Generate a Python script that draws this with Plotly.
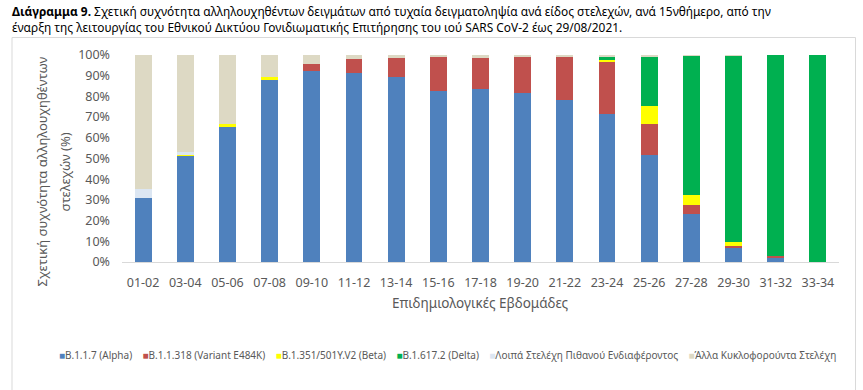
import plotly.graph_objects as go

weeks = ["01-02", "03-04", "05-06", "07-08", "09-10", "11-12", "13-14", "15-16", "17-18",
         "19-20", "21-22", "23-24", "25-26", "27-28", "29-30", "31-32", "33-34"]
alpha = [30.8, 51.0, 65.0, 87.9, 92.1, 91.5, 89.5, 82.6, 83.6, 81.8, 78.1, 71.4, 51.8, 23.3, 6.7, 2.2, 0.0]
e484k = [0.0, 0.0, 0.0, 0.0, 3.7, 6.5, 8.9, 16.8, 15.0, 17.4, 21.1, 25.4, 14.8, 4.0, 1.2, 0.5, 0.0]
beta = [0.0, 1.1, 1.9, 1.3, 0.0, 0.0, 0.0, 0.0, 0.0, 0.0, 0.2, 0.6, 8.6, 5.2, 1.9, 0.0, 0.0]
delta = [0.0, 0.0, 0.0, 0.0, 0.0, 0.0, 0.0, 0.0, 0.0, 0.0, 0.0, 2.0, 24.1, 67.2, 89.9, 97.3, 100.0]
interest = [4.6, 0.9, 0.0, 0.0, 0.0, 0.0, 0.0, 0.0, 0.0, 0.0, 0.0, 0.0, 0.0, 0.0, 0.0, 0.0, 0.0]
others = [64.6, 47.0, 33.1, 10.8, 4.2, 2.0, 1.6, 0.6, 1.4, 0.8, 0.6, 0.6, 0.7, 0.3, 0.3, 0.0, 0.0]
y_ticks = [0, 10, 20, 30, 40, 50, 60, 70, 80, 90, 100]
y_tick_labels = ["0%", "10%", "20%", "30%", "40%", "50%", "60%", "70%", "80%", "90%", "100%"]

names = ["B.1.1.7 (Alpha)", "B.1.1.318 (Variant E484K)", "B.1.351/501Y.V2 (Beta)",
         "B.1.617.2 (Delta)", "Λοιπά Στελέχη Πιθανού Ενδιαφέροντος", "Άλλα Κυκλοφορούντα Στελέχη"]
values = [alpha, e484k, beta, delta, interest, others]
colors = ["#4F81BD", "#C0504D", "#FFFF00", "#00B050", "#DCE6F2", "#DDD9C4"]

FONT = "Noto Sans"
GREY = "#595959"

fig = go.Figure()
for n, v, c in zip(names, values, colors):
    fig.add_trace(go.Bar(x=weeks, y=v, name=n, marker=dict(color=c, line=dict(width=0)),
                         showlegend=False))

# plot area in pixels
L, R, T, B = 122, 839, 55, 262
W, H = 863, 390


def px_x(x):
    return (x - L) / (R - L)


def px_y(y):
    return (B - y) / (B - T)


legend_text = "&nbsp;&nbsp;&nbsp;&nbsp;".join(
    f"<span style='color:{c}'>■</span>{n}" for n, c in zip(names, colors))

annotations = [
    dict(text="<b>Διάγραμμα 9.</b> Σχετική συχνότητα αλληλουχηθέντων δειγμάτων από τυχαία δειγματοληψία ανά είδος στελεχών, ανά 15νθήμερο, από την",
         x=px_x(10), y=px_y(11), xanchor="left", yanchor="middle",
         font=dict(size=11.9, color="black", family=FONT)),
    dict(text="έναρξη της λειτουργίας του Εθνικού Δικτύου Γονιδιωματικής Επιτήρησης του ιού SARS CoV-2 έως 29/08/2021.",
         x=px_x(10), y=px_y(27), xanchor="left", yanchor="middle",
         font=dict(size=11.9, color="black", family=FONT)),
    dict(text="Επιδημιολογικές Εβδομάδες", x=0.5, y=px_y(303), xanchor="center", yanchor="middle",
         font=dict(size=13.5, color=GREY, family=FONT)),
    dict(text="Σχετική συχνότητα αλληλουχηθέντων", x=px_x(41.5), y=px_y(172), textangle=-90,
         xanchor="center", yanchor="middle", font=dict(size=13, color=GREY, family=FONT)),
    dict(text="στελεχών (%)", x=px_x(64.5), y=px_y(172), textangle=-90,
         xanchor="center", yanchor="middle", font=dict(size=13, color=GREY, family=FONT)),
    dict(text=legend_text, x=px_x(447), y=px_y(355), xanchor="center", yanchor="middle",
         font=dict(size=10, color=GREY, family=FONT)),
]
for a in annotations:
    a.update(xref="paper", yref="paper", showarrow=False)

fig.update_layout(
    width=W, height=H,
    margin=dict(l=L, r=W - R, t=T, b=H - B),
    paper_bgcolor="white", plot_bgcolor="white",
    barmode="stack", bargap=0.6,
    font=dict(family=FONT, color=GREY),
    annotations=annotations,
    shapes=[dict(type="rect", xref="paper", yref="paper",
                 x0=px_x(12), x1=px_x(855.5), y0=px_y(420), y1=px_y(37.5),
                 line=dict(color="#D9D9D9", width=1), fillcolor="rgba(0,0,0,0)", layer="below")],
    xaxis=dict(type="category", showline=True, linecolor="#D9D9D9", linewidth=1, ticks="",
               showgrid=False, zeroline=False, tickfont=dict(size=12.5, color=GREY, family=FONT),
               ticklabelstandoff=9),
    yaxis=dict(range=[0, 100], tickmode="array", tickvals=y_ticks, ticktext=y_tick_labels,
               showgrid=False, zeroline=False, showline=False, ticks="",
               tickfont=dict(size=12.5, color=GREY, family=FONT), ticklabelstandoff=11),
)

fig.write_html("out.html", config={"displayModeBar": False},
               post_script="document.body.style.margin='0';")
